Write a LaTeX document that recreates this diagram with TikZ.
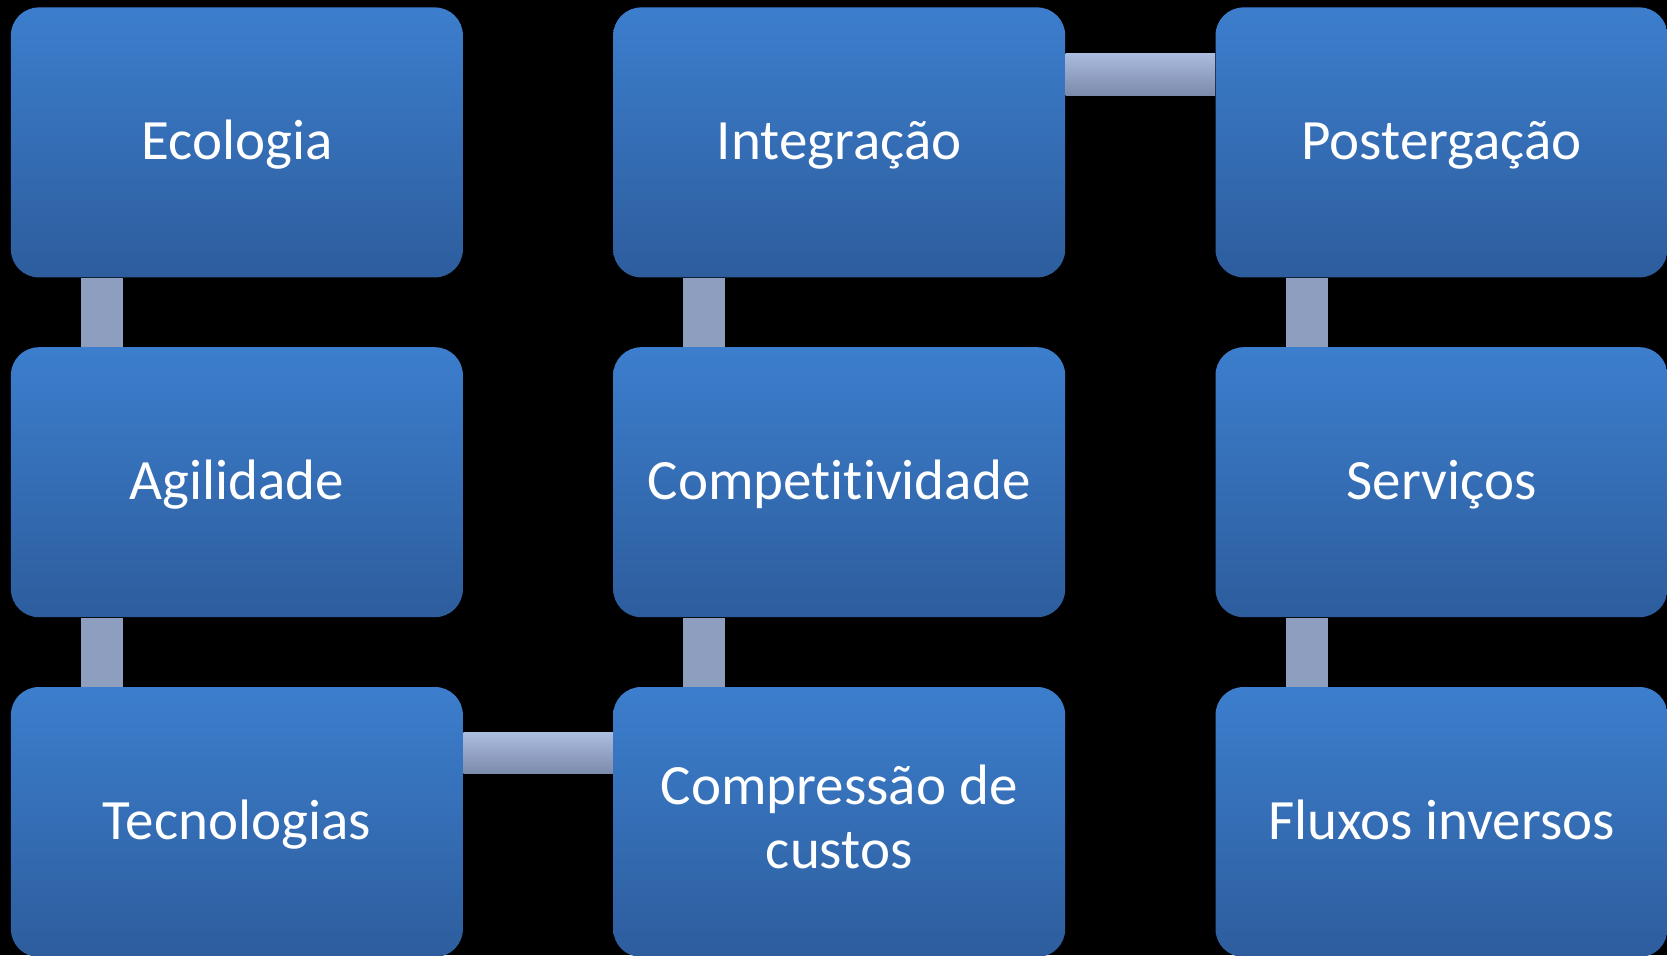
\documentclass[tikz,border=0pt]{standalone}
\usepackage{fontspec}
\setmainfont{Carlito}[Ligatures=NoCommon]
\usetikzlibrary{positioning,calc}
\definecolor{boxtop}{RGB}{60,126,205}
\definecolor{boxbottom}{RGB}{45,93,157}
\definecolor{linktop}{RGB}{170,188,224}
\definecolor{linkbottom}{RGB}{124,138,170}
\definecolor{linkv}{RGB}{142,158,190}

\begin{document}
\begin{tikzpicture} [x=0.5pt,y=-0.5pt,node distance=34.5pt and 74.75pt,every node/.style={align=center},
		box/.style={rounded corners=14pt,minimum width=226pt,minimum height=135pt,inner sep=0pt,text=white,top color=boxtop,bottom color=boxbottom,font=\fontsize{28.5}{32}\selectfont,
			execute at begin node=\rule{0pt}{0.8em},execute at end node=\rule[-0.2em]{0pt}{0.2em}},
		hlink/.style={top color=linktop,bottom color=linkbottom},
		vlink/.style={fill=linkv}]
			\fill[black] (0,0) rectangle (1667,955);
			\useasboundingbox (0,0) rectangle (1667,955);
			\node [box,anchor=north west] (eco) at (10.5,7) {Ecologia};
			\node [box,below=of eco] (agi) {Agilidade};
			\node [box,below=of agi] (tec) {Tecnologias};
			\node [box,right=of eco] (int) {Integração};
			\node [box,below=of int] (cpt) {Competitividade};
			\node [box,below=of cpt] (com) {Compressão de\\custos};
			\node [box,right=of int] (pos) {Postergação};
			\node [box,below=of pos] (ser) {Serviços};
			\node [box,below=of ser] (flu) {Fluxos inversos};
			\fill [vlink] ($(eco.south west)+(70.5,0)$) rectangle ($(agi.north west)+(112.5,0)$);
			\fill [vlink] ($(agi.south west)+(70.5,0)$) rectangle ($(tec.north west)+(112.5,0)$);
			\fill [vlink] ($(int.south west)+(70.5,0)$) rectangle ($(cpt.north west)+(112.5,0)$);
			\fill [vlink] ($(cpt.south west)+(70.5,0)$) rectangle ($(com.north west)+(112.5,0)$);
			\fill [vlink] ($(pos.south west)+(70.5,0)$) rectangle ($(ser.north west)+(112.5,0)$);
			\fill [vlink] ($(ser.south west)+(70.5,0)$) rectangle ($(flu.north west)+(112.5,0)$);
			\shade [hlink] ($(int.north east)+(0,46)$) rectangle ($(pos.north west)+(0,88)$);
			\shade [hlink] ($(tec.north east)+(0,46)$) rectangle ($(com.north west)+(0,87)$);
		\end{tikzpicture}
\end{document}
